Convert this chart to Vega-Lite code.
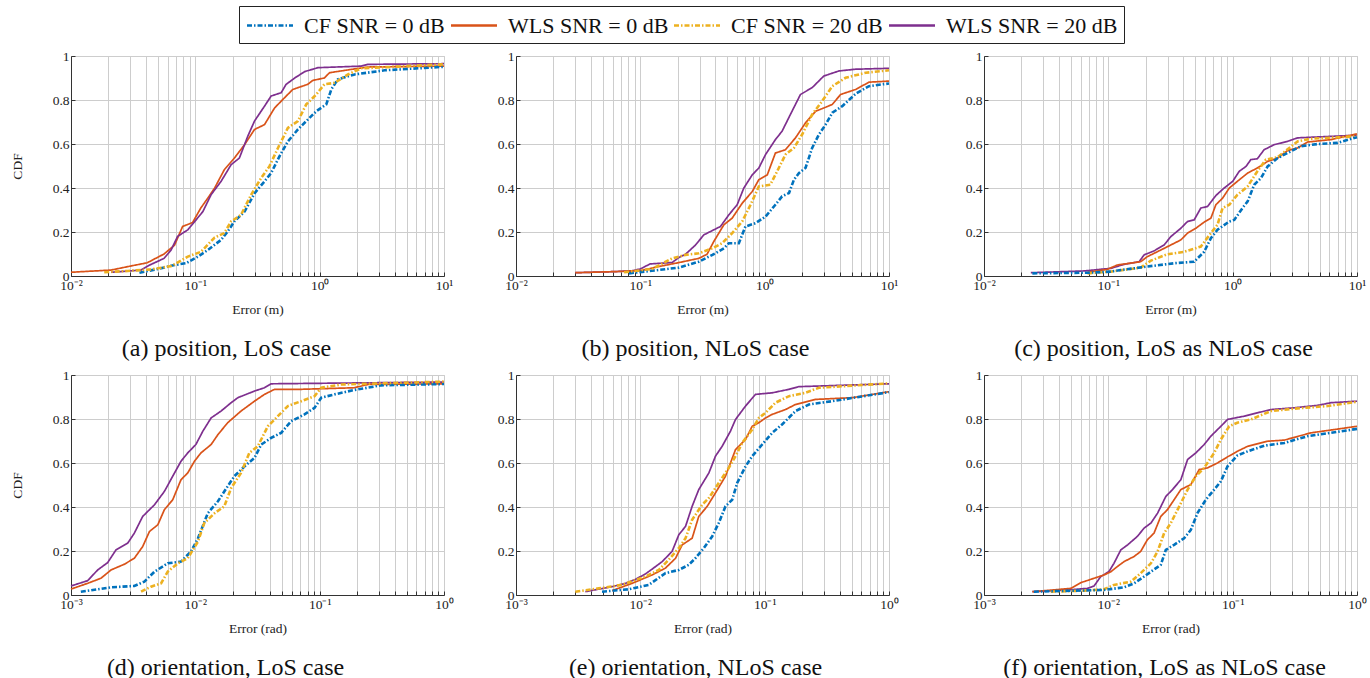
{
"$schema":"https://vega.github.io/schema/vega-lite/v6.json",
"padding":{"left":9,"top":5,"right":5,"bottom":0},
"background":"white",
"config":{
 "font":"Liberation Serif",
 "view":{"stroke":"#c8c8c8"},
 "axis":{"labelFont":"Liberation Serif","titleFont":"Liberation Serif","labelFontSize":13.5,"titleFontSize":13.5,"titleFontWeight":"normal","labelColor":"#222","titleColor":"#222","gridColor":"#cdcdcd","gridWidth":1,"domainColor":"#333","tickColor":"#333","tickSize":-4,"labelPadding":6,"labelOverlap":false,"labelFlush":false,"titlePadding":11},
 "axisY":{"titlePadding":28,"labelPadding":6,"format":"~g"},
 "title":{"orient":"bottom","font":"Liberation Serif","fontSize":24,"fontWeight":"normal","color":"#111","offset":21,"anchor":"middle"},
 "line":{"clip":true}
},
"data":{"values":[
{"p":"a","s":"W0","x":0.01,"y":0.017},{"p":"a","s":"W0","x":0.021,"y":0.027},{"p":"a","s":"W0","x":0.030,"y":0.045},{"p":"a","s":"W0","x":0.041,"y":0.06},{"p":"a","s":"W0","x":0.056,"y":0.10},{"p":"a","s":"W0","x":0.068,"y":0.14},{"p":"a","s":"W0","x":0.079,"y":0.225},{"p":"a","s":"W0","x":0.095,"y":0.243},{"p":"a","s":"W0","x":0.111,"y":0.31},{"p":"a","s":"W0","x":0.126,"y":0.354},{"p":"a","s":"W0","x":0.143,"y":0.40},{"p":"a","s":"W0","x":0.171,"y":0.483},{"p":"a","s":"W0","x":0.206,"y":0.536},{"p":"a","s":"W0","x":0.249,"y":0.597},{"p":"a","s":"W0","x":0.299,"y":0.666},{"p":"a","s":"W0","x":0.36,"y":0.688},{"p":"a","s":"W0","x":0.434,"y":0.764},{"p":"a","s":"W0","x":0.521,"y":0.81},{"p":"a","s":"W0","x":0.608,"y":0.848},{"p":"a","s":"W0","x":0.80,"y":0.871},{"p":"a","s":"W0","x":0.88,"y":0.889},{"p":"a","s":"W0","x":1.09,"y":0.90},{"p":"a","s":"W0","x":1.2,"y":0.924},{"p":"a","s":"W0","x":1.79,"y":0.939},{"p":"a","s":"W0","x":2.44,"y":0.95},{"p":"a","s":"W0","x":10,"y":0.954},
{"p":"a","s":"W20","x":0.021,"y":0.017},{"p":"a","s":"W20","x":0.0366,"y":0.027},{"p":"a","s":"W20","x":0.043,"y":0.05},{"p":"a","s":"W20","x":0.056,"y":0.08},{"p":"a","s":"W20","x":0.0638,"y":0.118},{"p":"a","s":"W20","x":0.072,"y":0.18},{"p":"a","s":"W20","x":0.087,"y":0.21},{"p":"a","s":"W20","x":0.098,"y":0.245},{"p":"a","s":"W20","x":0.115,"y":0.293},{"p":"a","s":"W20","x":0.134,"y":0.37},{"p":"a","s":"W20","x":0.161,"y":0.43},{"p":"a","s":"W20","x":0.194,"y":0.506},{"p":"a","s":"W20","x":0.226,"y":0.536},{"p":"a","s":"W20","x":0.264,"y":0.635},{"p":"a","s":"W20","x":0.299,"y":0.704},{"p":"a","s":"W20","x":0.36,"y":0.772},{"p":"a","s":"W20","x":0.407,"y":0.818},{"p":"a","s":"W20","x":0.49,"y":0.833},{"p":"a","s":"W20","x":0.537,"y":0.871},{"p":"a","s":"W20","x":0.63,"y":0.90},{"p":"a","s":"W20","x":0.757,"y":0.929},{"p":"a","s":"W20","x":0.97,"y":0.947},{"p":"a","s":"W20","x":2.16,"y":0.954},{"p":"a","s":"W20","x":2.44,"y":0.962},{"p":"a","s":"W20","x":10,"y":0.965},
{"p":"a","s":"C0","x":0.0355,"y":0.015},{"p":"a","s":"C0","x":0.053,"y":0.035},{"p":"a","s":"C0","x":0.068,"y":0.05},{"p":"a","s":"C0","x":0.084,"y":0.058},{"p":"a","s":"C0","x":0.105,"y":0.088},{"p":"a","s":"C0","x":0.126,"y":0.118},{"p":"a","s":"C0","x":0.161,"y":0.164},{"p":"a","s":"C0","x":0.182,"y":0.202},{"p":"a","s":"C0","x":0.206,"y":0.248},{"p":"a","s":"C0","x":0.249,"y":0.293},{"p":"a","s":"C0","x":0.30,"y":0.377},{"p":"a","s":"C0","x":0.36,"y":0.43},{"p":"a","s":"C0","x":0.407,"y":0.468},{"p":"a","s":"C0","x":0.475,"y":0.544},{"p":"a","s":"C0","x":0.555,"y":0.612},{"p":"a","s":"C0","x":0.668,"y":0.666},{"p":"a","s":"C0","x":0.78,"y":0.704},{"p":"a","s":"C0","x":0.94,"y":0.749},{"p":"a","s":"C0","x":1.13,"y":0.78},{"p":"a","s":"C0","x":1.24,"y":0.848},{"p":"a","s":"C0","x":1.40,"y":0.894},{"p":"a","s":"C0","x":1.91,"y":0.916},{"p":"a","s":"C0","x":3.33,"y":0.935},{"p":"a","s":"C0","x":10,"y":0.951},
{"p":"a","s":"C20","x":0.0185,"y":0.017},{"p":"a","s":"C20","x":0.0286,"y":0.023},{"p":"a","s":"C20","x":0.044,"y":0.03},{"p":"a","s":"C20","x":0.064,"y":0.045},{"p":"a","s":"C20","x":0.087,"y":0.088},{"p":"a","s":"C20","x":0.111,"y":0.11},{"p":"a","s":"C20","x":0.143,"y":0.175},{"p":"a","s":"C20","x":0.171,"y":0.195},{"p":"a","s":"C20","x":0.194,"y":0.248},{"p":"a","s":"C20","x":0.233,"y":0.278},{"p":"a","s":"C20","x":0.281,"y":0.369},{"p":"a","s":"C20","x":0.338,"y":0.445},{"p":"a","s":"C20","x":0.394,"y":0.498},{"p":"a","s":"C20","x":0.462,"y":0.582},{"p":"a","s":"C20","x":0.555,"y":0.673},{"p":"a","s":"C20","x":0.668,"y":0.704},{"p":"a","s":"C20","x":0.78,"y":0.78},{"p":"a","s":"C20","x":0.94,"y":0.825},{"p":"a","s":"C20","x":1.09,"y":0.871},{"p":"a","s":"C20","x":1.32,"y":0.878},{"p":"a","s":"C20","x":1.69,"y":0.916},{"p":"a","s":"C20","x":2.16,"y":0.944},{"p":"a","s":"C20","x":10,"y":0.962},
{"p":"b","s":"W20","x":0.030,"y":0.015},{"p":"b","s":"W20","x":0.063,"y":0.02},{"p":"b","s":"W20","x":0.086,"y":0.024},{"p":"b","s":"W20","x":0.1,"y":0.032},{"p":"b","s":"W20","x":0.12,"y":0.055},{"p":"b","s":"W20","x":0.18,"y":0.061},{"p":"b","s":"W20","x":0.204,"y":0.084},{"p":"b","s":"W20","x":0.231,"y":0.099},{"p":"b","s":"W20","x":0.278,"y":0.141},{"p":"b","s":"W20","x":0.324,"y":0.187},{"p":"b","s":"W20","x":0.441,"y":0.225},{"p":"b","s":"W20","x":0.515,"y":0.278},{"p":"b","s":"W20","x":0.601,"y":0.324},{"p":"b","s":"W20","x":0.68,"y":0.40},{"p":"b","s":"W20","x":0.795,"y":0.46},{"p":"b","s":"W20","x":0.898,"y":0.491},{"p":"b","s":"W20","x":1.016,"y":0.552},{"p":"b","s":"W20","x":1.22,"y":0.62},{"p":"b","s":"W20","x":1.38,"y":0.658},{"p":"b","s":"W20","x":1.61,"y":0.734},{"p":"b","s":"W20","x":1.94,"y":0.825},{"p":"b","s":"W20","x":2.41,"y":0.856},{"p":"b","s":"W20","x":2.99,"y":0.909},{"p":"b","s":"W20","x":3.96,"y":0.932},{"p":"b","s":"W20","x":5.39,"y":0.94},{"p":"b","s":"W20","x":10,"y":0.944},
{"p":"b","s":"W0","x":0.030,"y":0.015},{"p":"b","s":"W0","x":0.063,"y":0.02},{"p":"b","s":"W0","x":0.1,"y":0.024},{"p":"b","s":"W0","x":0.141,"y":0.043},{"p":"b","s":"W0","x":0.204,"y":0.061},{"p":"b","s":"W0","x":0.295,"y":0.08},{"p":"b","s":"W0","x":0.344,"y":0.099},{"p":"b","s":"W0","x":0.39,"y":0.157},{"p":"b","s":"W0","x":0.47,"y":0.233},{"p":"b","s":"W0","x":0.548,"y":0.263},{"p":"b","s":"W0","x":0.66,"y":0.331},{"p":"b","s":"W0","x":0.795,"y":0.384},{"p":"b","s":"W0","x":0.898,"y":0.438},{"p":"b","s":"W0","x":1.05,"y":0.46},{"p":"b","s":"W0","x":1.22,"y":0.559},{"p":"b","s":"W0","x":1.47,"y":0.574},{"p":"b","s":"W0","x":1.77,"y":0.628},{"p":"b","s":"W0","x":2.13,"y":0.696},{"p":"b","s":"W0","x":2.57,"y":0.749},{"p":"b","s":"W0","x":3.09,"y":0.767},{"p":"b","s":"W0","x":3.5,"y":0.78},{"p":"b","s":"W0","x":4.08,"y":0.825},{"p":"b","s":"W0","x":5.39,"y":0.848},{"p":"b","s":"W0","x":6.9,"y":0.881},{"p":"b","s":"W0","x":10,"y":0.886},
{"p":"b","s":"C0","x":0.081,"y":0.012},{"p":"b","s":"C0","x":0.124,"y":0.024},{"p":"b","s":"C0","x":0.204,"y":0.038},{"p":"b","s":"C0","x":0.295,"y":0.065},{"p":"b","s":"C0","x":0.38,"y":0.096},{"p":"b","s":"C0","x":0.47,"y":0.126},{"p":"b","s":"C0","x":0.515,"y":0.149},{"p":"b","s":"C0","x":0.62,"y":0.149},{"p":"b","s":"C0","x":0.70,"y":0.225},{"p":"b","s":"C0","x":0.844,"y":0.24},{"p":"b","s":"C0","x":1.016,"y":0.27},{"p":"b","s":"C0","x":1.22,"y":0.324},{"p":"b","s":"C0","x":1.38,"y":0.362},{"p":"b","s":"C0","x":1.57,"y":0.377},{"p":"b","s":"C0","x":1.72,"y":0.438},{"p":"b","s":"C0","x":1.89,"y":0.468},{"p":"b","s":"C0","x":2.13,"y":0.491},{"p":"b","s":"C0","x":2.41,"y":0.582},{"p":"b","s":"C0","x":2.73,"y":0.643},{"p":"b","s":"C0","x":3.09,"y":0.688},{"p":"b","s":"C0","x":3.5,"y":0.742},{"p":"b","s":"C0","x":4.21,"y":0.772},{"p":"b","s":"C0","x":5.39,"y":0.828},{"p":"b","s":"C0","x":6.9,"y":0.863},{"p":"b","s":"C0","x":10,"y":0.875},
{"p":"b","s":"C20","x":0.074,"y":0.017},{"p":"b","s":"C20","x":0.124,"y":0.032},{"p":"b","s":"C20","x":0.18,"y":0.08},{"p":"b","s":"C20","x":0.23,"y":0.096},{"p":"b","s":"C20","x":0.295,"y":0.103},{"p":"b","s":"C20","x":0.38,"y":0.126},{"p":"b","s":"C20","x":0.455,"y":0.149},{"p":"b","s":"C20","x":0.548,"y":0.195},{"p":"b","s":"C20","x":0.66,"y":0.248},{"p":"b","s":"C20","x":0.77,"y":0.324},{"p":"b","s":"C20","x":0.898,"y":0.407},{"p":"b","s":"C20","x":1.11,"y":0.415},{"p":"b","s":"C20","x":1.26,"y":0.476},{"p":"b","s":"C20","x":1.47,"y":0.552},{"p":"b","s":"C20","x":1.72,"y":0.582},{"p":"b","s":"C20","x":2.0,"y":0.643},{"p":"b","s":"C20","x":2.41,"y":0.734},{"p":"b","s":"C20","x":2.9,"y":0.795},{"p":"b","s":"C20","x":3.5,"y":0.863},{"p":"b","s":"C20","x":4.48,"y":0.901},{"p":"b","s":"C20","x":6.49,"y":0.924},{"p":"b","s":"C20","x":10,"y":0.935},
{"p":"c","s":"W20","x":0.0238,"y":0.015},{"p":"c","s":"W20","x":0.064,"y":0.023},{"p":"c","s":"W20","x":0.105,"y":0.035},{"p":"c","s":"W20","x":0.134,"y":0.053},{"p":"c","s":"W20","x":0.177,"y":0.065},{"p":"c","s":"W20","x":0.194,"y":0.096},{"p":"c","s":"W20","x":0.233,"y":0.114},{"p":"c","s":"W20","x":0.281,"y":0.141},{"p":"c","s":"W20","x":0.318,"y":0.179},{"p":"c","s":"W20","x":0.383,"y":0.217},{"p":"c","s":"W20","x":0.434,"y":0.248},{"p":"c","s":"W20","x":0.49,"y":0.255},{"p":"c","s":"W20","x":0.555,"y":0.309},{"p":"c","s":"W20","x":0.628,"y":0.316},{"p":"c","s":"W20","x":0.733,"y":0.366},{"p":"c","s":"W20","x":0.855,"y":0.40},{"p":"c","s":"W20","x":1.0,"y":0.43},{"p":"c","s":"W20","x":1.13,"y":0.476},{"p":"c","s":"W20","x":1.28,"y":0.498},{"p":"c","s":"W20","x":1.40,"y":0.529},{"p":"c","s":"W20","x":1.58,"y":0.533},{"p":"c","s":"W20","x":1.79,"y":0.574},{"p":"c","s":"W20","x":2.16,"y":0.597},{"p":"c","s":"W20","x":2.76,"y":0.612},{"p":"c","s":"W20","x":3.33,"y":0.628},{"p":"c","s":"W20","x":4.82,"y":0.632},{"p":"c","s":"W20","x":10,"y":0.64},
{"p":"c","s":"W0","x":0.068,"y":0.017},{"p":"c","s":"W0","x":0.098,"y":0.03},{"p":"c","s":"W0","x":0.118,"y":0.05},{"p":"c","s":"W0","x":0.182,"y":0.065},{"p":"c","s":"W0","x":0.206,"y":0.088},{"p":"c","s":"W0","x":0.264,"y":0.118},{"p":"c","s":"W0","x":0.318,"y":0.141},{"p":"c","s":"W0","x":0.383,"y":0.164},{"p":"c","s":"W0","x":0.434,"y":0.195},{"p":"c","s":"W0","x":0.506,"y":0.217},{"p":"c","s":"W0","x":0.59,"y":0.245},{"p":"c","s":"W0","x":0.668,"y":0.263},{"p":"c","s":"W0","x":0.733,"y":0.324},{"p":"c","s":"W0","x":0.83,"y":0.354},{"p":"c","s":"W0","x":0.94,"y":0.40},{"p":"c","s":"W0","x":1.09,"y":0.43},{"p":"c","s":"W0","x":1.32,"y":0.468},{"p":"c","s":"W0","x":1.58,"y":0.491},{"p":"c","s":"W0","x":1.91,"y":0.521},{"p":"c","s":"W0","x":2.30,"y":0.536},{"p":"c","s":"W0","x":2.76,"y":0.57},{"p":"c","s":"W0","x":3.33,"y":0.582},{"p":"c","s":"W0","x":4.0,"y":0.609},{"p":"c","s":"W0","x":6.17,"y":0.62},{"p":"c","s":"W0","x":10,"y":0.646},
{"p":"c","s":"C20","x":0.068,"y":0.012},{"p":"c","s":"C20","x":0.105,"y":0.02},{"p":"c","s":"C20","x":0.152,"y":0.032},{"p":"c","s":"C20","x":0.182,"y":0.038},{"p":"c","s":"C20","x":0.22,"y":0.07},{"p":"c","s":"C20","x":0.299,"y":0.099},{"p":"c","s":"C20","x":0.407,"y":0.11},{"p":"c","s":"C20","x":0.555,"y":0.134},{"p":"c","s":"C20","x":0.668,"y":0.195},{"p":"c","s":"C20","x":0.755,"y":0.233},{"p":"c","s":"C20","x":0.83,"y":0.309},{"p":"c","s":"C20","x":0.94,"y":0.324},{"p":"c","s":"C20","x":1.09,"y":0.369},{"p":"c","s":"C20","x":1.32,"y":0.407},{"p":"c","s":"C20","x":1.58,"y":0.476},{"p":"c","s":"C20","x":1.85,"y":0.529},{"p":"c","s":"C20","x":2.30,"y":0.54},{"p":"c","s":"C20","x":2.68,"y":0.57},{"p":"c","s":"C20","x":3.33,"y":0.612},{"p":"c","s":"C20","x":4.26,"y":0.624},{"p":"c","s":"C20","x":10,"y":0.635},
{"p":"c","s":"C0","x":0.0245,"y":0.012},{"p":"c","s":"C0","x":0.068,"y":0.015},{"p":"c","s":"C0","x":0.105,"y":0.02},{"p":"c","s":"C0","x":0.126,"y":0.027},{"p":"c","s":"C0","x":0.206,"y":0.043},{"p":"c","s":"C0","x":0.339,"y":0.058},{"p":"c","s":"C0","x":0.49,"y":0.065},{"p":"c","s":"C0","x":0.59,"y":0.11},{"p":"c","s":"C0","x":0.668,"y":0.172},{"p":"c","s":"C0","x":0.755,"y":0.21},{"p":"c","s":"C0","x":0.94,"y":0.248},{"p":"c","s":"C0","x":1.03,"y":0.255},{"p":"c","s":"C0","x":1.2,"y":0.309},{"p":"c","s":"C0","x":1.32,"y":0.339},{"p":"c","s":"C0","x":1.49,"y":0.415},{"p":"c","s":"C0","x":1.69,"y":0.445},{"p":"c","s":"C0","x":1.91,"y":0.498},{"p":"c","s":"C0","x":2.30,"y":0.536},{"p":"c","s":"C0","x":2.76,"y":0.559},{"p":"c","s":"C0","x":3.54,"y":0.59},{"p":"c","s":"C0","x":4.82,"y":0.60},{"p":"c","s":"C0","x":6.98,"y":0.605},{"p":"c","s":"C0","x":10,"y":0.631},
{"p":"d","s":"W20","x":0.001,"y":0.041},{"p":"d","s":"W20","x":0.00136,"y":0.065},{"p":"d","s":"W20","x":0.00164,"y":0.114},{"p":"d","s":"W20","x":0.00197,"y":0.147},{"p":"d","s":"W20","x":0.0023,"y":0.205},{"p":"d","s":"W20","x":0.00286,"y":0.236},{"p":"d","s":"W20","x":0.00323,"y":0.281},{"p":"d","s":"W20","x":0.00377,"y":0.357},{"p":"d","s":"W20","x":0.00469,"y":0.41},{"p":"d","s":"W20","x":0.00564,"y":0.471},{"p":"d","s":"W20","x":0.00658,"y":0.54},{"p":"d","s":"W20","x":0.00767,"y":0.608},{"p":"d","s":"W20","x":0.00869,"y":0.646},{"p":"d","s":"W20","x":0.0101,"y":0.684},{"p":"d","s":"W20","x":0.0115,"y":0.745},{"p":"d","s":"W20","x":0.0134,"y":0.805},{"p":"d","s":"W20","x":0.0161,"y":0.836},{"p":"d","s":"W20","x":0.0194,"y":0.874},{"p":"d","s":"W20","x":0.022,"y":0.897},{"p":"d","s":"W20","x":0.0299,"y":0.927},{"p":"d","s":"W20","x":0.036,"y":0.942},{"p":"d","s":"W20","x":0.0407,"y":0.96},{"p":"d","s":"W20","x":1,"y":0.968},
{"p":"d","s":"W0","x":0.001,"y":0.027},{"p":"d","s":"W0","x":0.00136,"y":0.053},{"p":"d","s":"W0","x":0.00174,"y":0.076},{"p":"d","s":"W0","x":0.0021,"y":0.114},{"p":"d","s":"W0","x":0.00269,"y":0.14},{"p":"d","s":"W0","x":0.00323,"y":0.167},{"p":"d","s":"W0","x":0.00377,"y":0.22},{"p":"d","s":"W0","x":0.00428,"y":0.289},{"p":"d","s":"W0","x":0.00499,"y":0.319},{"p":"d","s":"W0","x":0.00564,"y":0.388},{"p":"d","s":"W0","x":0.00658,"y":0.433},{"p":"d","s":"W0","x":0.00767,"y":0.524},{"p":"d","s":"W0","x":0.00869,"y":0.555},{"p":"d","s":"W0","x":0.00984,"y":0.608},{"p":"d","s":"W0","x":0.0111,"y":0.646},{"p":"d","s":"W0","x":0.0134,"y":0.684},{"p":"d","s":"W0","x":0.0152,"y":0.729},{"p":"d","s":"W0","x":0.0182,"y":0.783},{"p":"d","s":"W0","x":0.0233,"y":0.836},{"p":"d","s":"W0","x":0.0299,"y":0.881},{"p":"d","s":"W0","x":0.036,"y":0.912},{"p":"d","s":"W0","x":0.0434,"y":0.935},{"p":"d","s":"W0","x":0.071,"y":0.935},{"p":"d","s":"W0","x":0.19,"y":0.942},{"p":"d","s":"W0","x":0.244,"y":0.957},{"p":"d","s":"W0","x":1,"y":0.96},
{"p":"d","s":"C0","x":0.0012,"y":0.015},{"p":"d","s":"C0","x":0.00164,"y":0.026},{"p":"d","s":"C0","x":0.0021,"y":0.035},{"p":"d","s":"C0","x":0.00323,"y":0.041},{"p":"d","s":"C0","x":0.00389,"y":0.061},{"p":"d","s":"C0","x":0.00469,"y":0.106},{"p":"d","s":"C0","x":0.006,"y":0.144},{"p":"d","s":"C0","x":0.00767,"y":0.152},{"p":"d","s":"C0","x":0.00925,"y":0.198},{"p":"d","s":"C0","x":0.0105,"y":0.258},{"p":"d","s":"C0","x":0.0126,"y":0.372},{"p":"d","s":"C0","x":0.0152,"y":0.426},{"p":"d","s":"C0","x":0.0182,"y":0.494},{"p":"d","s":"C0","x":0.0206,"y":0.54},{"p":"d","s":"C0","x":0.0249,"y":0.585},{"p":"d","s":"C0","x":0.0299,"y":0.623},{"p":"d","s":"C0","x":0.0339,"y":0.684},{"p":"d","s":"C0","x":0.0407,"y":0.714},{"p":"d","s":"C0","x":0.049,"y":0.737},{"p":"d","s":"C0","x":0.059,"y":0.79},{"p":"d","s":"C0","x":0.0755,"y":0.821},{"p":"d","s":"C0","x":0.091,"y":0.851},{"p":"d","s":"C0","x":0.103,"y":0.897},{"p":"d","s":"C0","x":0.132,"y":0.912},{"p":"d","s":"C0","x":0.19,"y":0.932},{"p":"d","s":"C0","x":0.313,"y":0.953},{"p":"d","s":"C0","x":1,"y":0.959},
{"p":"d","s":"C20","x":0.00366,"y":0.015},{"p":"d","s":"C20","x":0.0044,"y":0.038},{"p":"d","s":"C20","x":0.0053,"y":0.053},{"p":"d","s":"C20","x":0.006,"y":0.106},{"p":"d","s":"C20","x":0.00723,"y":0.144},{"p":"d","s":"C20","x":0.00869,"y":0.167},{"p":"d","s":"C20","x":0.0105,"y":0.243},{"p":"d","s":"C20","x":0.0118,"y":0.327},{"p":"d","s":"C20","x":0.0143,"y":0.372},{"p":"d","s":"C20","x":0.0171,"y":0.403},{"p":"d","s":"C20","x":0.0194,"y":0.486},{"p":"d","s":"C20","x":0.0233,"y":0.555},{"p":"d","s":"C20","x":0.0272,"y":0.646},{"p":"d","s":"C20","x":0.0318,"y":0.676},{"p":"d","s":"C20","x":0.0383,"y":0.767},{"p":"d","s":"C20","x":0.0461,"y":0.813},{"p":"d","s":"C20","x":0.0555,"y":0.859},{"p":"d","s":"C20","x":0.071,"y":0.881},{"p":"d","s":"C20","x":0.091,"y":0.904},{"p":"d","s":"C20","x":0.103,"y":0.942},{"p":"d","s":"C20","x":0.149,"y":0.957},{"p":"d","s":"C20","x":1,"y":0.97},
{"p":"e","s":"W20","x":0.00361,"y":0.015},{"p":"e","s":"W20","x":0.00593,"y":0.038},{"p":"e","s":"W20","x":0.00759,"y":0.053},{"p":"e","s":"W20","x":0.00914,"y":0.071},{"p":"e","s":"W20","x":0.011,"y":0.096},{"p":"e","s":"W20","x":0.0124,"y":0.117},{"p":"e","s":"W20","x":0.015,"y":0.152},{"p":"e","s":"W20","x":0.018,"y":0.198},{"p":"e","s":"W20","x":0.0204,"y":0.274},{"p":"e","s":"W20","x":0.0231,"y":0.312},{"p":"e","s":"W20","x":0.0261,"y":0.403},{"p":"e","s":"W20","x":0.0295,"y":0.479},{"p":"e","s":"W20","x":0.0356,"y":0.555},{"p":"e","s":"W20","x":0.0402,"y":0.631},{"p":"e","s":"W20","x":0.0455,"y":0.676},{"p":"e","s":"W20","x":0.0531,"y":0.745},{"p":"e","s":"W20","x":0.0583,"y":0.798},{"p":"e","s":"W20","x":0.0702,"y":0.859},{"p":"e","s":"W20","x":0.0844,"y":0.912},{"p":"e","s":"W20","x":0.115,"y":0.919},{"p":"e","s":"W20","x":0.157,"y":0.935},{"p":"e","s":"W20","x":0.188,"y":0.947},{"p":"e","s":"W20","x":1,"y":0.96},
{"p":"e","s":"W0","x":0.00593,"y":0.02},{"p":"e","s":"W0","x":0.00859,"y":0.053},{"p":"e","s":"W0","x":0.0124,"y":0.091},{"p":"e","s":"W0","x":0.0159,"y":0.122},{"p":"e","s":"W0","x":0.0192,"y":0.167},{"p":"e","s":"W0","x":0.0217,"y":0.228},{"p":"e","s":"W0","x":0.0261,"y":0.258},{"p":"e","s":"W0","x":0.0295,"y":0.357},{"p":"e","s":"W0","x":0.0345,"y":0.403},{"p":"e","s":"W0","x":0.0402,"y":0.464},{"p":"e","s":"W0","x":0.0484,"y":0.54},{"p":"e","s":"W0","x":0.0583,"y":0.661},{"p":"e","s":"W0","x":0.0702,"y":0.707},{"p":"e","s":"W0","x":0.0794,"y":0.767},{"p":"e","s":"W0","x":0.0898,"y":0.783},{"p":"e","s":"W0","x":0.1016,"y":0.805},{"p":"e","s":"W0","x":0.115,"y":0.821},{"p":"e","s":"W0","x":0.147,"y":0.843},{"p":"e","s":"W0","x":0.177,"y":0.866},{"p":"e","s":"W0","x":0.256,"y":0.889},{"p":"e","s":"W0","x":0.507,"y":0.897},{"p":"e","s":"W0","x":1,"y":0.924},
{"p":"e","s":"C20","x":0.003,"y":0.015},{"p":"e","s":"C20","x":0.00462,"y":0.03},{"p":"e","s":"C20","x":0.00712,"y":0.046},{"p":"e","s":"C20","x":0.011,"y":0.084},{"p":"e","s":"C20","x":0.0141,"y":0.114},{"p":"e","s":"C20","x":0.0169,"y":0.16},{"p":"e","s":"C20","x":0.0204,"y":0.213},{"p":"e","s":"C20","x":0.0231,"y":0.258},{"p":"e","s":"C20","x":0.0261,"y":0.342},{"p":"e","s":"C20","x":0.0314,"y":0.41},{"p":"e","s":"C20","x":0.0356,"y":0.441},{"p":"e","s":"C20","x":0.0427,"y":0.509},{"p":"e","s":"C20","x":0.0515,"y":0.578},{"p":"e","s":"C20","x":0.0583,"y":0.631},{"p":"e","s":"C20","x":0.0659,"y":0.691},{"p":"e","s":"C20","x":0.0794,"y":0.752},{"p":"e","s":"C20","x":0.0898,"y":0.805},{"p":"e","s":"C20","x":0.1016,"y":0.828},{"p":"e","s":"C20","x":0.122,"y":0.874},{"p":"e","s":"C20","x":0.157,"y":0.904},{"p":"e","s":"C20","x":0.213,"y":0.919},{"p":"e","s":"C20","x":0.273,"y":0.942},{"p":"e","s":"C20","x":1,"y":0.962},
{"p":"e","s":"C0","x":0.00492,"y":0.015},{"p":"e","s":"C0","x":0.00807,"y":0.026},{"p":"e","s":"C0","x":0.0117,"y":0.046},{"p":"e","s":"C0","x":0.0159,"y":0.099},{"p":"e","s":"C0","x":0.0204,"y":0.114},{"p":"e","s":"C0","x":0.0245,"y":0.137},{"p":"e","s":"C0","x":0.0277,"y":0.167},{"p":"e","s":"C0","x":0.0324,"y":0.213},{"p":"e","s":"C0","x":0.0378,"y":0.266},{"p":"e","s":"C0","x":0.0427,"y":0.327},{"p":"e","s":"C0","x":0.0484,"y":0.403},{"p":"e","s":"C0","x":0.0548,"y":0.433},{"p":"e","s":"C0","x":0.0601,"y":0.509},{"p":"e","s":"C0","x":0.0702,"y":0.585},{"p":"e","s":"C0","x":0.0794,"y":0.631},{"p":"e","s":"C0","x":0.0955,"y":0.684},{"p":"e","s":"C0","x":0.115,"y":0.737},{"p":"e","s":"C0","x":0.138,"y":0.775},{"p":"e","s":"C0","x":0.177,"y":0.836},{"p":"e","s":"C0","x":0.227,"y":0.866},{"p":"e","s":"C0","x":0.35,"y":0.881},{"p":"e","s":"C0","x":1,"y":0.922},
{"p":"f","s":"W20","x":0.00245,"y":0.015},{"p":"f","s":"W20","x":0.00469,"y":0.023},{"p":"f","s":"W20","x":0.00679,"y":0.03},{"p":"f","s":"W20","x":0.00768,"y":0.041},{"p":"f","s":"W20","x":0.00869,"y":0.084},{"p":"f","s":"W20","x":0.0101,"y":0.106},{"p":"f","s":"W20","x":0.0111,"y":0.144},{"p":"f","s":"W20","x":0.0126,"y":0.205},{"p":"f","s":"W20","x":0.0143,"y":0.228},{"p":"f","s":"W20","x":0.0171,"y":0.266},{"p":"f","s":"W20","x":0.0194,"y":0.304},{"p":"f","s":"W20","x":0.022,"y":0.327},{"p":"f","s":"W20","x":0.0249,"y":0.372},{"p":"f","s":"W20","x":0.029,"y":0.448},{"p":"f","s":"W20","x":0.0328,"y":0.479},{"p":"f","s":"W20","x":0.0383,"y":0.524},{"p":"f","s":"W20","x":0.0434,"y":0.616},{"p":"f","s":"W20","x":0.0506,"y":0.646},{"p":"f","s":"W20","x":0.059,"y":0.684},{"p":"f","s":"W20","x":0.0668,"y":0.722},{"p":"f","s":"W20","x":0.0804,"y":0.767},{"p":"f","s":"W20","x":0.091,"y":0.798},{"p":"f","s":"W20","x":0.124,"y":0.813},{"p":"f","s":"W20","x":0.158,"y":0.828},{"p":"f","s":"W20","x":0.203,"y":0.843},{"p":"f","s":"W20","x":0.313,"y":0.851},{"p":"f","s":"W20","x":0.482,"y":0.862},{"p":"f","s":"W20","x":0.617,"y":0.874},{"p":"f","s":"W20","x":1,"y":0.881},
{"p":"f","s":"W0","x":0.00245,"y":0.015},{"p":"f","s":"W0","x":0.00499,"y":0.03},{"p":"f","s":"W0","x":0.006,"y":0.056},{"p":"f","s":"W0","x":0.00768,"y":0.076},{"p":"f","s":"W0","x":0.00925,"y":0.091},{"p":"f","s":"W0","x":0.0105,"y":0.106},{"p":"f","s":"W0","x":0.0118,"y":0.129},{"p":"f","s":"W0","x":0.0134,"y":0.152},{"p":"f","s":"W0","x":0.0161,"y":0.175},{"p":"f","s":"W0","x":0.0182,"y":0.198},{"p":"f","s":"W0","x":0.0206,"y":0.251},{"p":"f","s":"W0","x":0.0233,"y":0.281},{"p":"f","s":"W0","x":0.0264,"y":0.357},{"p":"f","s":"W0","x":0.0299,"y":0.388},{"p":"f","s":"W0","x":0.0338,"y":0.433},{"p":"f","s":"W0","x":0.0383,"y":0.479},{"p":"f","s":"W0","x":0.0461,"y":0.502},{"p":"f","s":"W0","x":0.0538,"y":0.57},{"p":"f","s":"W0","x":0.0628,"y":0.578},{"p":"f","s":"W0","x":0.0755,"y":0.60},{"p":"f","s":"W0","x":0.091,"y":0.628},{"p":"f","s":"W0","x":0.109,"y":0.653},{"p":"f","s":"W0","x":0.132,"y":0.676},{"p":"f","s":"W0","x":0.191,"y":0.699},{"p":"f","s":"W0","x":0.26,"y":0.704},{"p":"f","s":"W0","x":0.425,"y":0.737},{"p":"f","s":"W0","x":0.656,"y":0.752},{"p":"f","s":"W0","x":1,"y":0.767},
{"p":"f","s":"C20","x":0.00344,"y":0.015},{"p":"f","s":"C20","x":0.00638,"y":0.02},{"p":"f","s":"C20","x":0.00925,"y":0.026},{"p":"f","s":"C20","x":0.0111,"y":0.046},{"p":"f","s":"C20","x":0.0152,"y":0.061},{"p":"f","s":"C20","x":0.0182,"y":0.099},{"p":"f","s":"C20","x":0.022,"y":0.144},{"p":"f","s":"C20","x":0.0249,"y":0.198},{"p":"f","s":"C20","x":0.0281,"y":0.281},{"p":"f","s":"C20","x":0.0318,"y":0.327},{"p":"f","s":"C20","x":0.0372,"y":0.403},{"p":"f","s":"C20","x":0.0434,"y":0.479},{"p":"f","s":"C20","x":0.0506,"y":0.54},{"p":"f","s":"C20","x":0.059,"y":0.578},{"p":"f","s":"C20","x":0.071,"y":0.646},{"p":"f","s":"C20","x":0.0804,"y":0.707},{"p":"f","s":"C20","x":0.0938,"y":0.767},{"p":"f","s":"C20","x":0.109,"y":0.783},{"p":"f","s":"C20","x":0.14,"y":0.798},{"p":"f","s":"C20","x":0.203,"y":0.836},{"p":"f","s":"C20","x":0.313,"y":0.847},{"p":"f","s":"C20","x":0.581,"y":0.859},{"p":"f","s":"C20","x":1,"y":0.878},
{"p":"f","s":"C0","x":0.00252,"y":0.015},{"p":"f","s":"C0","x":0.00925,"y":0.023},{"p":"f","s":"C0","x":0.0134,"y":0.035},{"p":"f","s":"C0","x":0.0161,"y":0.053},{"p":"f","s":"C0","x":0.0194,"y":0.084},{"p":"f","s":"C0","x":0.022,"y":0.106},{"p":"f","s":"C0","x":0.0264,"y":0.137},{"p":"f","s":"C0","x":0.029,"y":0.205},{"p":"f","s":"C0","x":0.0338,"y":0.228},{"p":"f","s":"C0","x":0.0407,"y":0.258},{"p":"f","s":"C0","x":0.0461,"y":0.296},{"p":"f","s":"C0","x":0.0521,"y":0.372},{"p":"f","s":"C0","x":0.0608,"y":0.433},{"p":"f","s":"C0","x":0.071,"y":0.479},{"p":"f","s":"C0","x":0.0804,"y":0.517},{"p":"f","s":"C0","x":0.091,"y":0.585},{"p":"f","s":"C0","x":0.109,"y":0.634},{"p":"f","s":"C0","x":0.132,"y":0.653},{"p":"f","s":"C0","x":0.18,"y":0.679},{"p":"f","s":"C0","x":0.26,"y":0.691},{"p":"f","s":"C0","x":0.401,"y":0.722},{"p":"f","s":"C0","x":0.617,"y":0.737},{"p":"f","s":"C0","x":1,"y":0.755}
]},
"vconcat":[
{"hconcat":[
{"width":373,"height":220,"title":{"text":"(a) position, LoS case","dx":-31},
 "transform":[{"filter":"datum.p==='a'"}],"mark":{"type":"line"},
 "encoding":{
  "x":{"field":"x","type":"quantitative","scale":{"type":"log","domain":[0.01,10]},"axis":{"title":"Error (m)","values":[0.01,0.02,0.03,0.04,0.05,0.06,0.07,0.08,0.09,0.1,0.2,0.3,0.4,0.5,0.6,0.7,0.8,0.9,1,2,3,4,5,6,7,8,9,10],"labelExpr":"datum.value==0.01?'10⁻²':datum.value==0.1?'10⁻¹':datum.value==1?'10⁰':datum.value==10?'10¹':''"}},
  "y":{"field":"y","type":"quantitative","scale":{"domain":[0,1]},"axis":{"title":"CDF","values":[0,0.2,0.4,0.6,0.8,1]}},
  "color":{"field":"s","type":"nominal","scale":{"domain":["C0","W0","C20","W20"],"range":["#0072BD","#D95319","#EDB120","#7E2F8E"]},
   "legend":{"orient":"none","legendX":168,"legendY":-50,"direction":"horizontal","columns":4,"title":null,"symbolType":"M-2,0H2","symbolSize":529,"symbolOffset":11.5,"symbolStrokeWidth":2.6,"labelFont":"Liberation Serif","labelFontSize":22,"labelColor":"#111","labelLimit":0,"labelOffset":21,"columnPadding":0,"padding":6.5,"strokeColor":"#222",
    "labelExpr":"datum.label=='C0'?'CF SNR = 0 dB':datum.label=='W0'?'WLS SNR = 0 dB':datum.label=='C20'?'CF SNR = 20 dB':'WLS SNR = 20 dB'"}},
  "strokeDash":{"field":"s","type":"nominal","scale":{"domain":["C0","W0","C20","W20"],"range":[[5,2,1.5,2],[1,0],[5,2,1.5,2],[1,0]]}},
  "strokeWidth":{"condition":{"test":"datum.s=='C0'||datum.s=='C20'","value":2.6},"value":1.7}
 }},
{"width":373,"height":220,"title":{"text":"(b) position, NLoS case","dx":-7},
 "transform":[{"filter":"datum.p==='b'"}],"mark":{"type":"line"},
 "encoding":{
  "x":{"field":"x","type":"quantitative","scale":{"type":"log","domain":[0.01,10]},"axis":{"title":"Error (m)","values":[0.01,0.02,0.03,0.04,0.05,0.06,0.07,0.08,0.09,0.1,0.2,0.3,0.4,0.5,0.6,0.7,0.8,0.9,1,2,3,4,5,6,7,8,9,10],"labelExpr":"datum.value==0.01?'10⁻²':datum.value==0.1?'10⁻¹':datum.value==1?'10⁰':datum.value==10?'10¹':''"}},
  "y":{"field":"y","type":"quantitative","scale":{"domain":[0,1]},"axis":{"title":null,"values":[0,0.2,0.4,0.6,0.8,1]}},
  "color":{"field":"s","type":"nominal"},
  "strokeDash":{"field":"s","type":"nominal"},
  "strokeWidth":{"condition":{"test":"datum.s=='C0'||datum.s=='C20'","value":2.6},"value":1.7}
 }},
{"width":373,"height":220,"title":{"text":"(c) position, LoS as NLoS case","dx":-7},
 "transform":[{"filter":"datum.p==='c'"}],"mark":{"type":"line"},
 "encoding":{
  "x":{"field":"x","type":"quantitative","scale":{"type":"log","domain":[0.01,10]},"axis":{"title":"Error (m)","values":[0.01,0.02,0.03,0.04,0.05,0.06,0.07,0.08,0.09,0.1,0.2,0.3,0.4,0.5,0.6,0.7,0.8,0.9,1,2,3,4,5,6,7,8,9,10],"labelExpr":"datum.value==0.01?'10⁻²':datum.value==0.1?'10⁻¹':datum.value==1?'10⁰':datum.value==10?'10¹':''"}},
  "y":{"field":"y","type":"quantitative","scale":{"domain":[0,1]},"axis":{"title":null,"minExtent":42,"values":[0,0.2,0.4,0.6,0.8,1]}},
  "color":{"field":"s","type":"nominal"},
  "strokeDash":{"field":"s","type":"nominal"},
  "strokeWidth":{"condition":{"test":"datum.s=='C0'||datum.s=='C20'","value":2.6},"value":1.7}
 }}
],"spacing":42},
{"hconcat":[
{"width":373,"height":220,"title":{"text":"(d) orientation, LoS case","dx":-32},
 "transform":[{"filter":"datum.p==='d'"}],"mark":{"type":"line"},
 "encoding":{
  "x":{"field":"x","type":"quantitative","scale":{"type":"log","domain":[0.001,1]},"axis":{"title":"Error (rad)","values":[0.001,0.002,0.003,0.004,0.005,0.006,0.007,0.008,0.009,0.01,0.02,0.03,0.04,0.05,0.06,0.07,0.08,0.09,0.1,0.2,0.3,0.4,0.5,0.6,0.7,0.8,0.9,1],"labelExpr":"datum.value==0.001?'10⁻³':datum.value==0.01?'10⁻²':datum.value==0.1?'10⁻¹':datum.value==1?'10⁰':''"}},
  "y":{"field":"y","type":"quantitative","scale":{"domain":[0,1]},"axis":{"title":"CDF","values":[0,0.2,0.4,0.6,0.8,1]}},
  "color":{"field":"s","type":"nominal"},
  "strokeDash":{"field":"s","type":"nominal"},
  "strokeWidth":{"condition":{"test":"datum.s=='C0'||datum.s=='C20'","value":2.6},"value":1.7}
 }},
{"width":373,"height":220,"title":{"text":"(e) orientation, NLoS case","dx":-7},
 "transform":[{"filter":"datum.p==='e'"}],"mark":{"type":"line"},
 "encoding":{
  "x":{"field":"x","type":"quantitative","scale":{"type":"log","domain":[0.001,1]},"axis":{"title":"Error (rad)","values":[0.001,0.002,0.003,0.004,0.005,0.006,0.007,0.008,0.009,0.01,0.02,0.03,0.04,0.05,0.06,0.07,0.08,0.09,0.1,0.2,0.3,0.4,0.5,0.6,0.7,0.8,0.9,1],"labelExpr":"datum.value==0.001?'10⁻³':datum.value==0.01?'10⁻²':datum.value==0.1?'10⁻¹':datum.value==1?'10⁰':''"}},
  "y":{"field":"y","type":"quantitative","scale":{"domain":[0,1]},"axis":{"title":null,"values":[0,0.2,0.4,0.6,0.8,1]}},
  "color":{"field":"s","type":"nominal"},
  "strokeDash":{"field":"s","type":"nominal"},
  "strokeWidth":{"condition":{"test":"datum.s=='C0'||datum.s=='C20'","value":2.6},"value":1.7}
 }},
{"width":373,"height":220,"title":{"text":"(f) orientation, LoS as NLoS case","dx":-6},
 "transform":[{"filter":"datum.p==='f'"}],"mark":{"type":"line"},
 "encoding":{
  "x":{"field":"x","type":"quantitative","scale":{"type":"log","domain":[0.001,1]},"axis":{"title":"Error (rad)","values":[0.001,0.002,0.003,0.004,0.005,0.006,0.007,0.008,0.009,0.01,0.02,0.03,0.04,0.05,0.06,0.07,0.08,0.09,0.1,0.2,0.3,0.4,0.5,0.6,0.7,0.8,0.9,1],"labelExpr":"datum.value==0.001?'10⁻³':datum.value==0.01?'10⁻²':datum.value==0.1?'10⁻¹':datum.value==1?'10⁰':''"}},
  "y":{"field":"y","type":"quantitative","scale":{"domain":[0,1]},"axis":{"title":null,"minExtent":42,"values":[0,0.2,0.4,0.6,0.8,1]}},
  "color":{"field":"s","type":"nominal"},
  "strokeDash":{"field":"s","type":"nominal"},
  "strokeWidth":{"condition":{"test":"datum.s=='C0'||datum.s=='C20'","value":2.6},"value":1.7}
 }}
],"spacing":42}
],
"spacing":5
}
